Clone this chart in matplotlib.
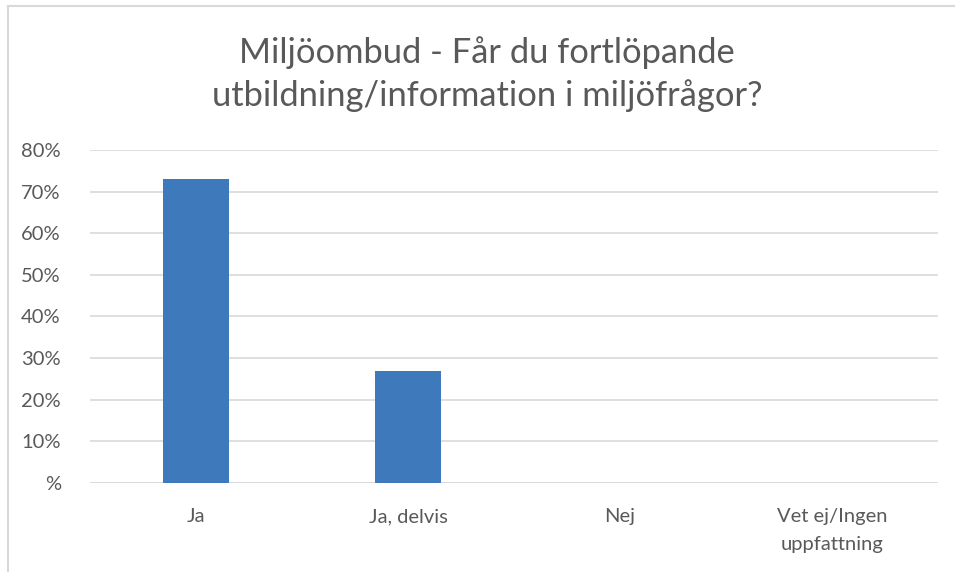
import matplotlib
matplotlib.use("Agg")
import matplotlib.pyplot as plt
from matplotlib.ticker import FuncFormatter

plt.rcParams["font.family"] = ["Lato", "DejaVu Sans"]

categories = ["Ja", "Ja, delvis", "Nej", "Vet ej/Ingen\nuppfattning"]
values = [73, 27, 0, 0]
yticks = [0, 10, 20, 30, 40, 50, 60, 70, 80]

grey = "#595959"

fig = plt.figure(figsize=(9.55, 5.72), dpi=100)
ax = fig.add_axes([0.0942, 0.1556, 0.888, 0.5822])

x = range(len(categories))
ax.bar(x, values, width=0.31, color="#3D79BB", zorder=3)

ax.set_xlim(-0.5, len(categories) - 0.5)
ax.set_ylim(0, 80)
ax.set_yticks(yticks)
ax.yaxis.set_major_formatter(FuncFormatter(lambda v, p: "%" if v == 0 else "%d%%" % v))
ax.set_xticks(list(x))
ax.set_xticklabels(categories, linespacing=1.8)
ax.grid(axis="y", color="#D9D9D9", linewidth=1.2, zorder=0)
ax.tick_params(axis="both", length=0, labelsize=14.5, colors=grey)
ax.tick_params(axis="x", pad=18)
ax.tick_params(axis="y", pad=21)
for s in ax.spines.values():
    s.set_visible(False)
ax.axhline(0, color="#D9D9D9", linewidth=1.2, zorder=2)

fig.text(0.51, 0.871, "Miljöombud - Får du fortlöpande\nutbildning/information i miljöfrågor?",
         ha="center", va="center", fontsize=24.8, color=grey, linespacing=1.38)

# outer frame (cropped screenshot: only top and left edges visible)
fig.add_artist(plt.Line2D([8 / 955, 8 / 955], [0, 1 - 6 / 572], transform=fig.transFigure,
                          color="#D9D9D9", linewidth=1.5))
fig.add_artist(plt.Line2D([8 / 955, 1], [1 - 6 / 572, 1 - 6 / 572], transform=fig.transFigure,
                          color="#D9D9D9", linewidth=1.5))

fig.savefig("out.png", dpi=100)
